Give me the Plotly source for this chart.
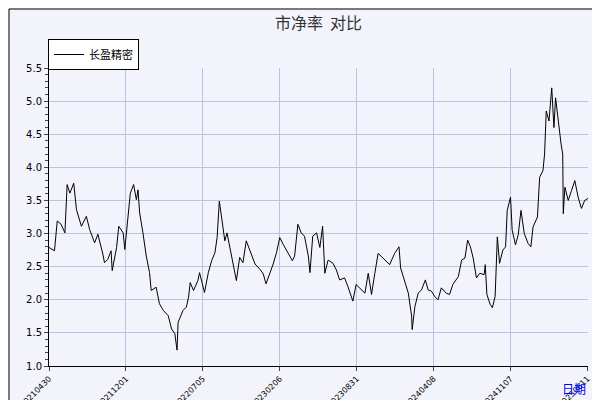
import plotly.graph_objects as go

# === trading-day index and P/B values ===
day = [0, 10, 15, 22, 29, 33, 38, 45, 50, 59, 68, 74, 83, 89, 98, 101, 107, 113, 115, 123,
       127, 135, 138, 142, 148, 154, 159, 162, 165, 171, 177, 183, 186, 195, 201, 208, 217, 223, 229, 233,
       235, 244, 250, 254, 257, 263, 271, 274, 279, 283, 290, 296, 302, 306, 310, 314, 320, 324, 332, 336,
       341, 347, 353, 359, 365, 375, 384, 390, 395, 402, 408, 414, 420, 426, 435, 443, 447, 453, 459, 465,
       472, 475, 480, 487, 493, 498,
       502, 508, 517, 523, 529, 538, 544, 553, 559, 569, 575, 581, 587, 593, 599, 608, 620, 629, 637, 640,
       647, 654, 660, 661, 666, 672, 678, 685, 690, 696, 702, 708, 714, 723, 729, 735, 745, 751, 757, 762,
       767, 772, 778, 784, 792, 794, 797, 803, 807, 812, 816, 820, 826, 831, 834, 837, 840, 843, 849, 854,
       859, 865, 872, 877, 881, 889, 893, 899, 902, 905, 910, 915, 919, 922, 927, 932, 935, 936, 939, 945,
       951, 957, 963, 969, 975, 981]
pb = [2.79, 2.74, 3.19, 3.14, 3.01, 3.74, 3.61, 3.76, 3.36, 3.11, 3.26, 3.06, 2.86, 2.99, 2.69, 2.56, 2.61, 2.74, 2.44, 2.79,
      3.11, 3.01, 2.76, 3.14, 3.61, 3.74, 3.51, 3.66, 3.31, 3.01, 2.66, 2.41, 2.14, 2.19, 1.94, 1.84, 1.76, 1.56, 1.49, 1.24,
      1.66, 1.84, 1.89, 2.04, 2.26, 2.14, 2.29, 2.41, 2.24, 2.11, 2.41, 2.59, 2.71, 2.94, 3.49, 3.26, 2.89, 3.01, 2.69, 2.49,
      2.29, 2.64, 2.56, 2.89, 2.76, 2.54, 2.46, 2.39, 2.24, 2.39, 2.54, 2.71, 2.94, 2.84, 2.71, 2.59, 2.66, 3.14, 3.01, 2.96,
      2.66, 2.41, 2.96, 3.01, 2.79, 3.11,
      2.40, 2.60, 2.55, 2.45, 2.30, 2.33, 2.20, 1.98, 2.23, 2.15, 2.10, 2.40, 2.08, 2.40, 2.70, 2.63, 2.53, 2.70, 2.80, 2.48,
      2.30, 2.10, 1.75, 1.55, 1.90, 2.10, 2.15, 2.30, 2.15, 2.13, 2.05, 2.00, 2.18, 2.10, 2.08, 2.23, 2.35, 2.60, 2.63, 2.90,
      2.80, 2.63, 2.33, 2.40, 2.38, 2.53, 2.08, 1.93, 1.88, 2.05, 2.95, 2.55, 2.75, 2.80, 3.35, 3.45, 3.55, 3.05, 2.83, 2.98,
      3.35, 3.00, 2.85, 2.80, 3.10, 3.25, 3.85, 3.95, 4.20, 4.85, 4.70, 5.20, 4.60, 5.05, 4.65, 4.35, 4.20, 3.30, 3.70, 3.50,
      3.65, 3.80, 3.55, 3.38, 3.50, 3.53]

tick_days = [0, 140, 280, 420, 560, 700, 840, 980]
tick_labels = ["20210430", "20211201", "20220705", "20230206", "20230831", "20240408", "20241107", "20250611"]

fig = go.Figure()
fig.add_trace(go.Scatter(x=day, y=pb, mode="lines", name="长盈精密",
                         line=dict(color="black", width=1)))

# plot area from x=41..580, y=60..358 in a 600x400 page
L, R, T, B = 41, 20, 60, 42
pw, ph = 600 - L - R, 400 - T - B

def px(x):
    return (x - L) / pw

def py(y):
    return (400 - B - y) / ph

fig.update_layout(
    width=600, height=400,
    margin=dict(l=L, r=R, t=T, b=B, autoexpand=False),
    paper_bgcolor="#f3f3fb",
    plot_bgcolor="#dce2f7",
    font=dict(family="DejaVu Sans, Noto Sans CJK SC", size=10, color="black"),
    title=dict(text="市净率  对比", x=0.5, xref="paper", y=0.975, yanchor="top",
               font=dict(size=16, color="#333333", family="Noto Sans CJK SC")),
    showlegend=True,
    legend=dict(x=px(40), y=py(31), xanchor="left", yanchor="top",
                bgcolor="white", bordercolor="black", borderwidth=1,
                itemwidth=30, font=dict(size=11, family="Noto Sans CJK SC")),
    xaxis=dict(range=[0, 981], tickvals=tick_days, ticktext=tick_labels, automargin=False,
               tickangle=-45, tickfont=dict(size=8), ticks="outside", ticklen=4,
               showgrid=True, gridcolor="#b8c3e6", zeroline=False,
               showline=True, linecolor="black"),
    yaxis=dict(range=[1.0, 5.5], dtick=0.5, tickformat=".1f", ticks="outside", ticklen=4,
               automargin=False,
               showgrid=True, gridcolor="#b8c3e6", zeroline=False,
               showline=True, linecolor="black",
               minor=dict(dtick=0.1, ticks="outside", ticklen=3, showgrid=False)),
    annotations=[dict(text="日期", x=px(580), y=py(380), xref="paper", yref="paper",
                      xanchor="right", yanchor="middle", showarrow=False,
                      font=dict(color="blue", size=12, family="Noto Sans CJK SC"))],
    shapes=[
        # drop shadow and outer frame
        dict(type="rect", xref="paper", yref="paper",
             x0=px(5), x1=px(600), y0=py(400), y1=py(5),
             line=dict(width=0), fillcolor="#777777", layer="below"),
        dict(type="rect", xref="paper", yref="paper",
             x0=px(1), x1=px(596), y0=py(396), y1=py(1),
             line=dict(color="black", width=1), fillcolor="#f3f3fb", layer="below"),
    ],
)

fig.write_html("out.html")
